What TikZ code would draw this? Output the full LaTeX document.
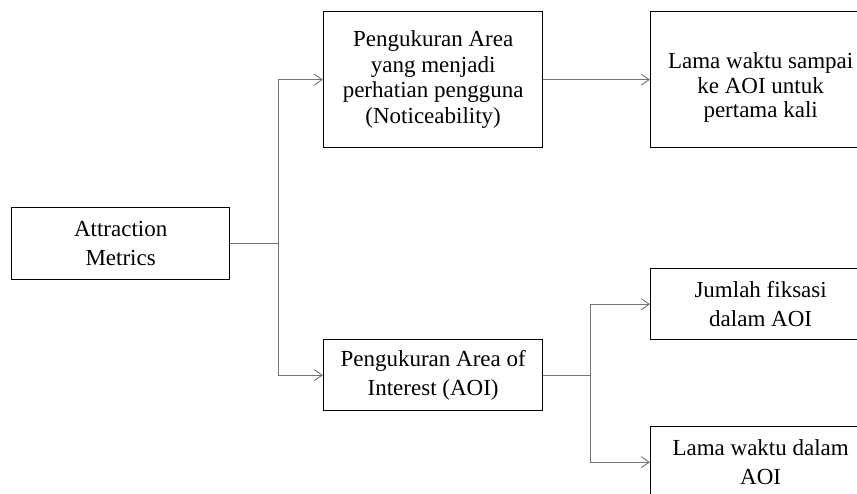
\documentclass[tikz,border=0pt]{standalone}
\usepackage{fontspec}
\setmainfont{Liberation Serif}
\usetikzlibrary{arrows.meta}
\begin{document}
\begin{tikzpicture}[x=1pt,y=-1pt,
  box/.style={draw=black, line width=1.3pt, inner sep=0pt, align=center, anchor=north west,
    font=\fontsize{23}{29}\selectfont},
  txt/.style={inner sep=0pt, align=center, font=\fontsize{23}{24.5}\selectfont},
  conn/.style={draw=black!55, line width=0.9pt},
  arr/.style={conn, -{Straight Barb[length=8pt,width=11pt,line width=0.9pt]}}]
\clip (0,0) rectangle (857,494);
\node[box, minimum width=218pt, minimum height=72pt] (attr) at (11,207) {Attraction\\Metrics};
\node[box, minimum width=219pt, minimum height=136pt, font=\fontsize{23}{25.7}\selectfont] (notice) at (323,11)
  {Pengukuran Area\\yang menjadi\\perhatian pengguna\\(Noticeability)};
\node[box, minimum width=220pt, minimum height=136pt] (lama1) at (650,11) {};
\node[txt] (lama1t) at ([yshift=-8pt]lama1.center) {Lama waktu sampai\\ke AOI untuk\\pertama kali};
\node[box, minimum width=219pt, minimum height=71pt] (aoi) at (323,339) {Pengukuran Area of\\Interest (AOI)};
\node[box, minimum width=220pt, minimum height=71pt] (jumlah) at (650,268) {Jumlah fiksasi\\dalam AOI};
\node[box, minimum width=220pt, minimum height=71pt] (lama2) at (650,426) {Lama waktu dalam\\AOI};
\coordinate (j1) at ([xshift=48pt]attr.east);
\coordinate (j2) at ([xshift=47pt]aoi.east);
\draw[conn] (attr.east) -- (j1);
\draw[arr] (j1) |- (notice.west);
\draw[arr] (j1) |- (aoi.west);
\draw[arr] (notice.east) -- (lama1.west);
\draw[conn] (aoi.east) -- (j2);
\draw[arr] (j2) |- (jumlah.west);
\draw[arr] (j2) |- (lama2.west);
\end{tikzpicture}
\end{document}
